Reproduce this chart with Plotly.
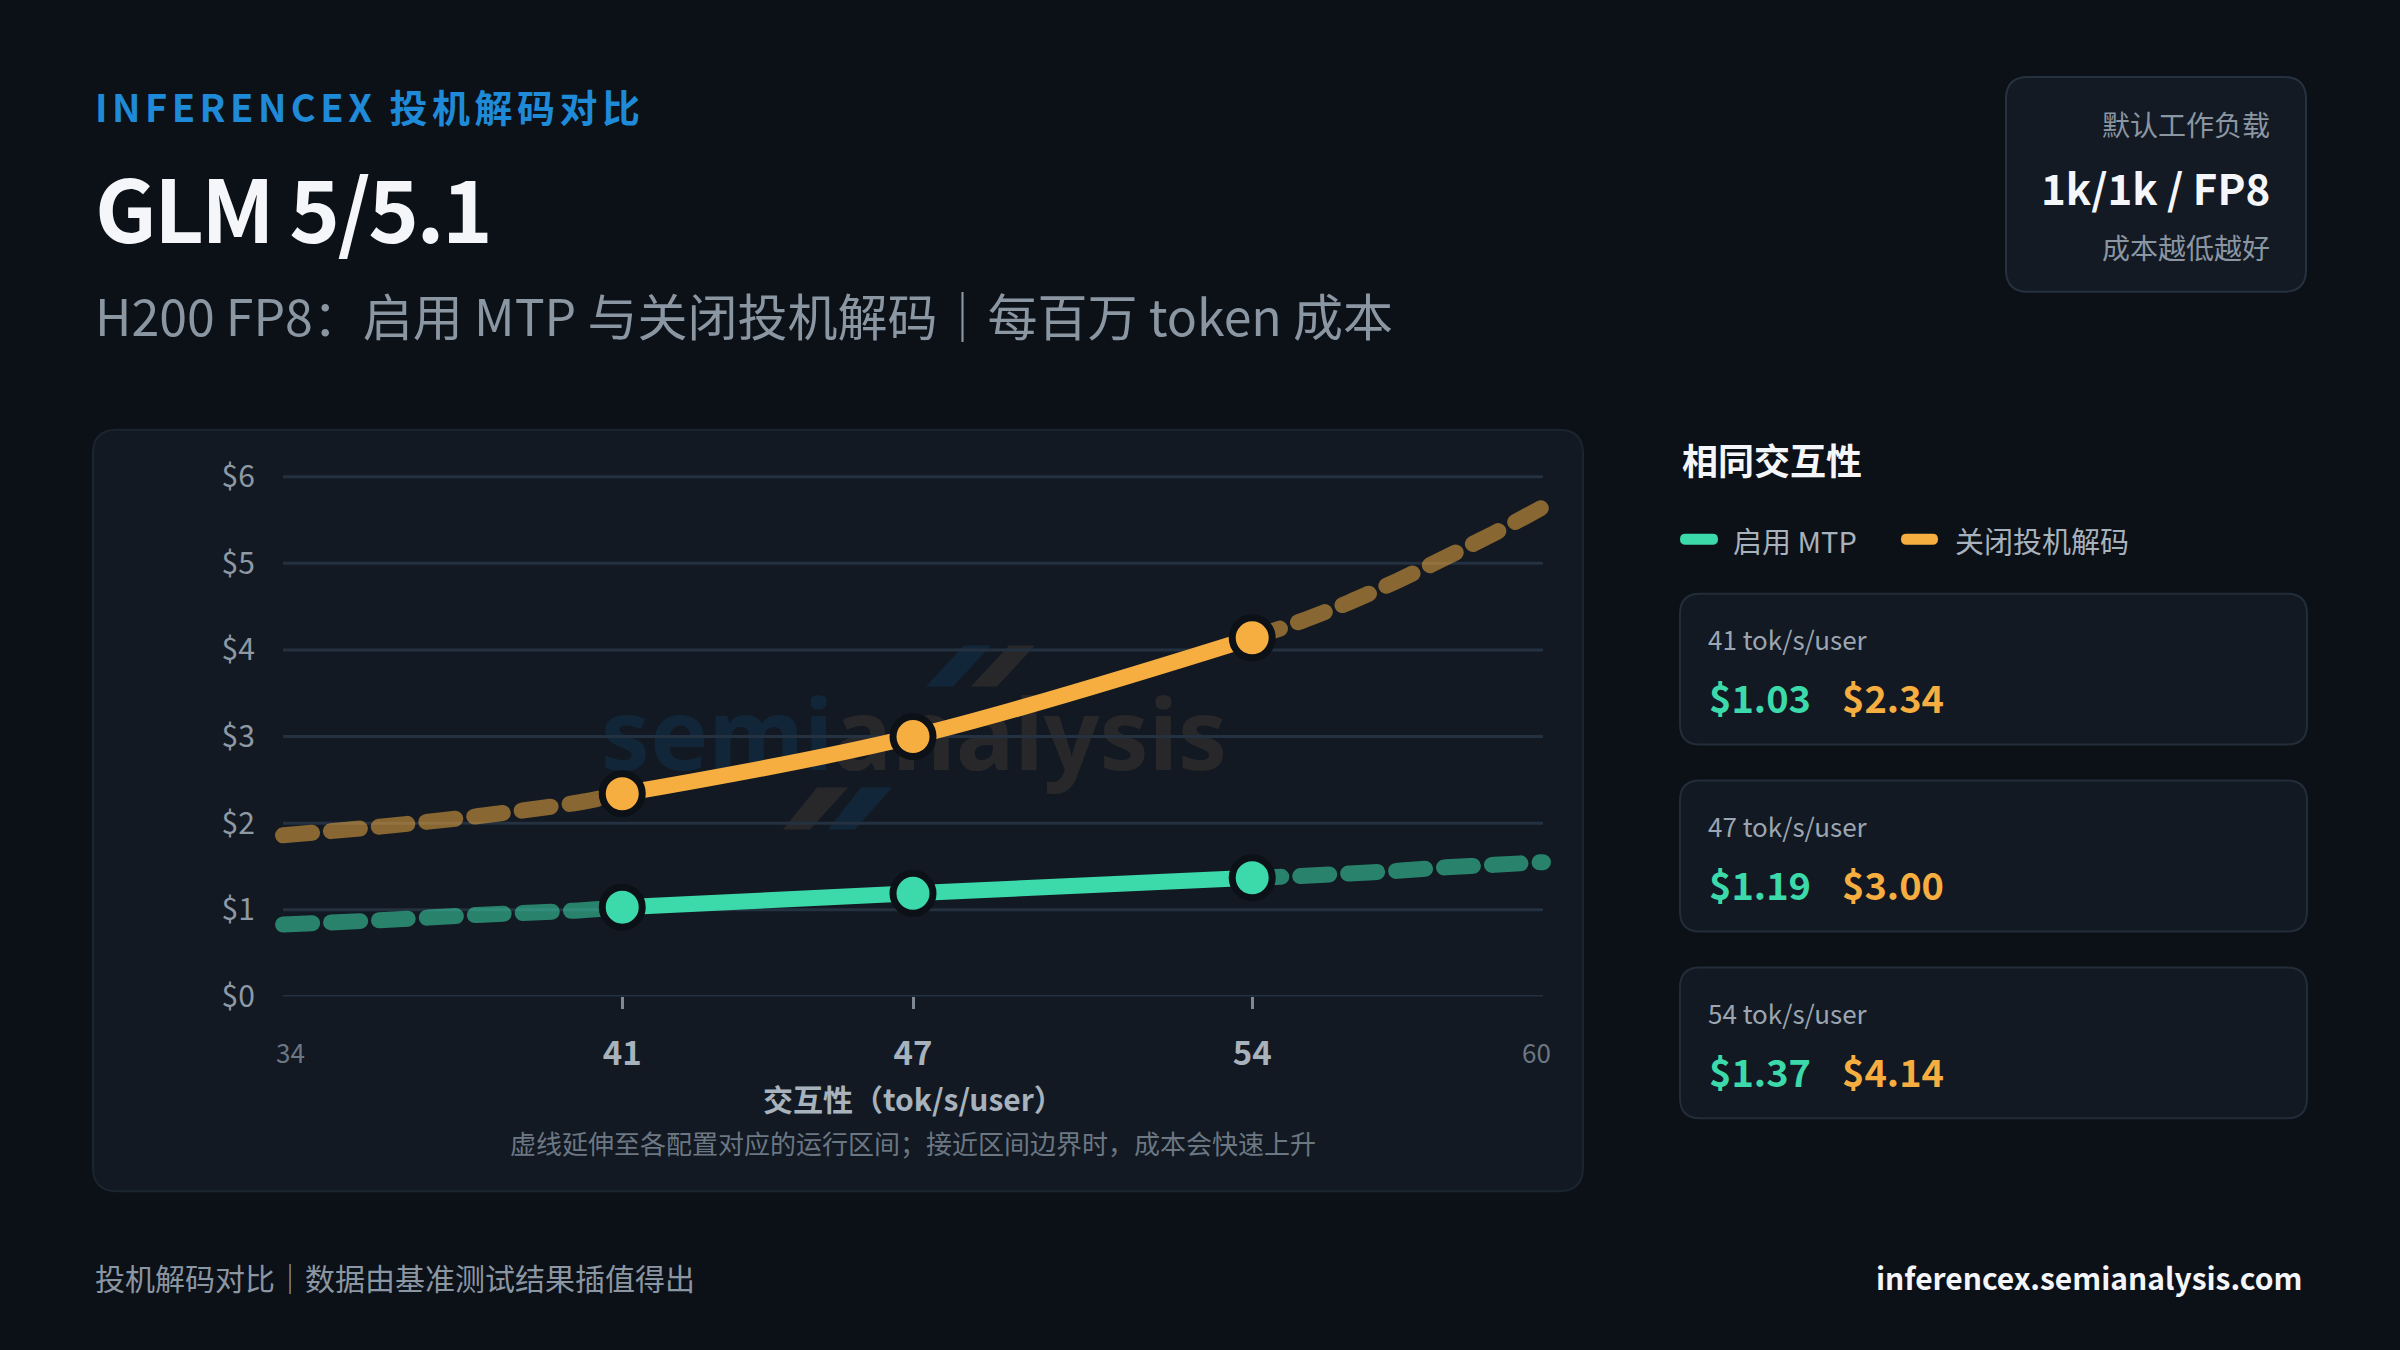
import plotly.graph_objects as go

W, H = 2400, 1350
SY = 1 / 0.9865  # vertical calibration of the design frame
FONT = "Noto Sans CJK SC"

# ---------------- data ----------------
interactivity = [41, 47, 54]
cost_mtp = [1.03, 1.19, 1.37]
cost_nospec = [2.34, 3.00, 4.14]

mtp_low_x = [34, 36, 38, 40, 41]
mtp_low_y = [0.83, 0.88, 0.94, 0.99, 1.03]
mtp_high_x = [54, 55, 56, 57, 58, 59, 60]
mtp_high_y = [1.37, 1.39, 1.42, 1.45, 1.49, 1.52, 1.55]

nospec_low_x = [34, 36, 38, 40, 41]
nospec_low_y = [1.86, 1.96, 2.08, 2.23, 2.34]
nospec_high_x = [54, 55, 56, 57, 58, 59, 60]
nospec_high_y = [4.14, 4.33, 4.55, 4.80, 5.07, 5.35, 5.65]

y_ticks = [0, 1, 2, 3, 4, 5, 6]
y_tick_labels = ["$0", "$1", "$2", "$3", "$4", "$5", "$6"]
x_edge_labels = [34, 60]
series_names = ["启用 MTP", "关闭投机解码"]

TEAL = "#3cd9aa"
ORANGE = "#f7ae41"
TEAL_DIM = "rgba(60,217,170,0.55)"
ORANGE_DIM = "rgba(247,174,65,0.52)"


def px(x):
    return x / W


def py(y):
    return 1 - y * SY / H


def rrect(x0, y0, x1, y1, r):
    return (f"M{px(x0 + r)},{py(y0)} L{px(x1 - r)},{py(y0)} Q{px(x1)},{py(y0)} {px(x1)},{py(y0 + r)} "
            f"L{px(x1)},{py(y1 - r)} Q{px(x1)},{py(y1)} {px(x1 - r)},{py(y1)} "
            f"L{px(x0 + r)},{py(y1)} Q{px(x0)},{py(y1)} {px(x0)},{py(y1 - r)} "
            f"L{px(x0)},{py(y0 + r)} Q{px(x0)},{py(y0)} {px(x0 + r)},{py(y0)} Z")


def poly(pts):
    return "M" + " L".join(f"{px(x)},{py(y)}" for x, y in pts) + " Z"


fig = go.Figure()

DASH = "29px,19px"
for xs, ys, c in [(mtp_low_x, mtp_low_y, TEAL_DIM), (mtp_high_x, mtp_high_y, TEAL_DIM),
                  (nospec_low_x, nospec_low_y, ORANGE_DIM), (nospec_high_x, nospec_high_y, ORANGE_DIM)]:
    fig.add_trace(go.Scatter(x=xs, y=ys, mode="lines",
                             line=dict(color=c, width=16, dash=DASH, shape="spline", smoothing=0.8),
                             hoverinfo="skip", showlegend=False))

for ys, c, name in [(cost_mtp, TEAL, series_names[0]), (cost_nospec, ORANGE, series_names[1])]:
    fig.add_trace(go.Scatter(x=interactivity, y=ys, mode="lines+markers", name=name,
                             line=dict(color=c, width=16, shape="spline", smoothing=1.0),
                             marker=dict(size=40, color=c, line=dict(color="#0c1117", width=7)),
                             cliponaxis=False, hoverinfo="skip", showlegend=False))

shapes = []
ann = []

# chart card
shapes.append(dict(type="path", xref="paper", yref="paper", path=rrect(93, 430, 1583, 1192, 24),
                   fillcolor="#121922", line=dict(color="#1b2530", width=2), layer="below"))
# top-right box
shapes.append(dict(type="path", xref="paper", yref="paper", path=rrect(2006, 77, 2306, 292, 22),
                   fillcolor="#131a23", line=dict(color="#263140", width=2), layer="below"))

# watermark
shapes.append(dict(type="rect", xref="paper", yref="paper", x0=px(600), x1=px(1228), y0=py(801), y1=py(677),
                   line=dict(width=0), fillcolor="rgba(0,0,0,0)", layer="below",
                   label=dict(text="<span style='color:#12263a'>semi</span>analysis",
                              font=dict(family="Noto Sans", size=98, color="#28282a", weight=700),
                              textposition="middle center")))
for pts, col in [
    ([(964, 646), (991, 646), (953, 687), (926, 687)], "#12263a"),
    ([(1009, 646), (1035, 646), (997, 687), (971, 687)], "#28282a"),
    ([(817, 788), (848, 788), (810, 830), (783, 830)], "#28282a"),
    ([(861, 788), (892, 788), (855, 830), (828, 830)], "#12263a"),
]:
    shapes.append(dict(type="path", xref="paper", yref="paper", path=poly(pts), fillcolor=col,
                       line=dict(width=0), layer="below"))

# gridlines
for v in y_ticks:
    shapes.append(dict(type="line", xref="x", yref="y", x0=34, x1=60, y0=v, y1=v,
                       line=dict(color="#243140", width=3), layer="below"))

# right cards
card_tops = [594, 781, 968]
for t in card_tops:
    shapes.append(dict(type="path", xref="paper", yref="paper", path=rrect(1680, t, 2307, t + 151, 20),
                       fillcolor="#121922", line=dict(color="#222d39", width=2), layer="below"))

# legend pills
shapes.append(dict(type="path", xref="paper", yref="paper", path=rrect(1680, 534, 1718, 545, 5.5),
                   fillcolor=TEAL, line=dict(width=0)))
shapes.append(dict(type="path", xref="paper", yref="paper", path=rrect(1901, 534, 1938, 545, 5.5),
                   fillcolor=ORANGE, line=dict(width=0)))


def text(x, y, s, size, color, anchor="left", bold=False, family=FONT, xshift=0):
    ann.append(dict(x=px(x), y=py(y), xref="paper", yref="paper", text=s, showarrow=False,
                    xanchor=anchor, yanchor="middle", xshift=xshift,
                    font=dict(size=size, color=color, family=family, weight=700 if bold else 400)))


text(93, 106, "<span style='letter-spacing:4.5px'>INFERENCEX 投机解码对比</span>", 38, "#1e8ad8", bold=True)
text(93, 206, "<span style='letter-spacing:-2.5px'>GLM 5/5.1</span>", 86, "#f4f6fa", bold=True)
text(93, 314, "H200 FP8：启用 MTP 与关闭投机解码｜每百万 token 成本", 50, "#8b96a3")

text(2272, 124, "默认工作负载", 28, "#8b96a3", anchor="right")
text(2272, 187, "1k/1k / FP8", 42, "#f4f6fa", anchor="right", bold=True)
text(2272, 247, "成本越低越好", 28, "#8b96a3", anchor="right")

text(1680, 459, "相同交互性", 36, "#f4f6fa", bold=True)
text(1731, 540, series_names[0], 29, "#a7b2bd")
text(1953, 540, series_names[1], 29, "#a7b2bd")

for t, xv, a, b in zip(card_tops, interactivity, cost_mtp, cost_nospec):
    text(1706, t + 45, f"{xv} tok/s/user", 26, "#9ba6b2")
    text(1707, t + 103, f"${a:.2f}", 38, TEAL, bold=True)
    text(1840, t + 103, f"${b:.2f}", 38, ORANGE, bold=True)

text(913, 1099, "交互性（tok/s/user）", 30, "#a7b2bd", anchor="center", bold=True)
text(913, 1143, "虚线延伸至各配置对应的运行区间；接近区间边界时，成本会快速上升", 26, "#6c7784", anchor="center")

text(93, 1278, "投机解码对比｜数据由基准测试结果插值得出", 30, "#8b96a3")
text(2304, 1278, "inferencex.semianalysis.com", 30, "#f4f6fa", anchor="right", bold=True)

for v, sh in zip(x_edge_labels, [7, -6]):
    ann.append(dict(x=v, y=py(1052), xref="x", yref="paper", text=str(v), showarrow=False,
                    xanchor="center", yanchor="middle", xshift=sh,
                    font=dict(size=26, color="#6c7784", family=FONT)))

fig.update_layout(
    width=W, height=H,
    autosize=False,
    margin=dict(l=0, r=0, t=0, b=0),
    paper_bgcolor="#0c1017",
    plot_bgcolor="rgba(0,0,0,0)",
    showlegend=False,
    hovermode=False,
    shapes=shapes,
    annotations=ann,
    xaxis=dict(domain=[px(258.8), px(1567.2)], range=[33.5, 60.5], tickvals=interactivity,
               ticktext=[str(v) for v in interactivity], ticks="outside", ticklen=12, tickwidth=3,
               tickcolor="#7d8894", showgrid=False, zeroline=False, showline=False,
               ticklabelstandoff=16,
               tickfont=dict(size=33, color="#a7b2bd", family=FONT, weight=700)),
    yaxis=dict(domain=[py(997), py(451)], range=[0, 6.3], tickvals=y_ticks, ticktext=y_tick_labels,
               ticks="", showgrid=False, zeroline=False, showline=False, ticklabelstandoff=3,
               tickfont=dict(size=30, color="#8e99a6", family=FONT)),
)

post = ("document.documentElement.style.background='#0c1017';"
        "document.body.style.margin='0';document.body.style.background='#0c1017';"
        "var s=document.createElement('style');"
        "s.textContent='.scatterlayer .js-line{stroke-linecap:round;stroke-linejoin:round;}';"
        "document.head.appendChild(s);")
fig.write_html("out.html", post_script=post, config={"displayModeBar": False})
